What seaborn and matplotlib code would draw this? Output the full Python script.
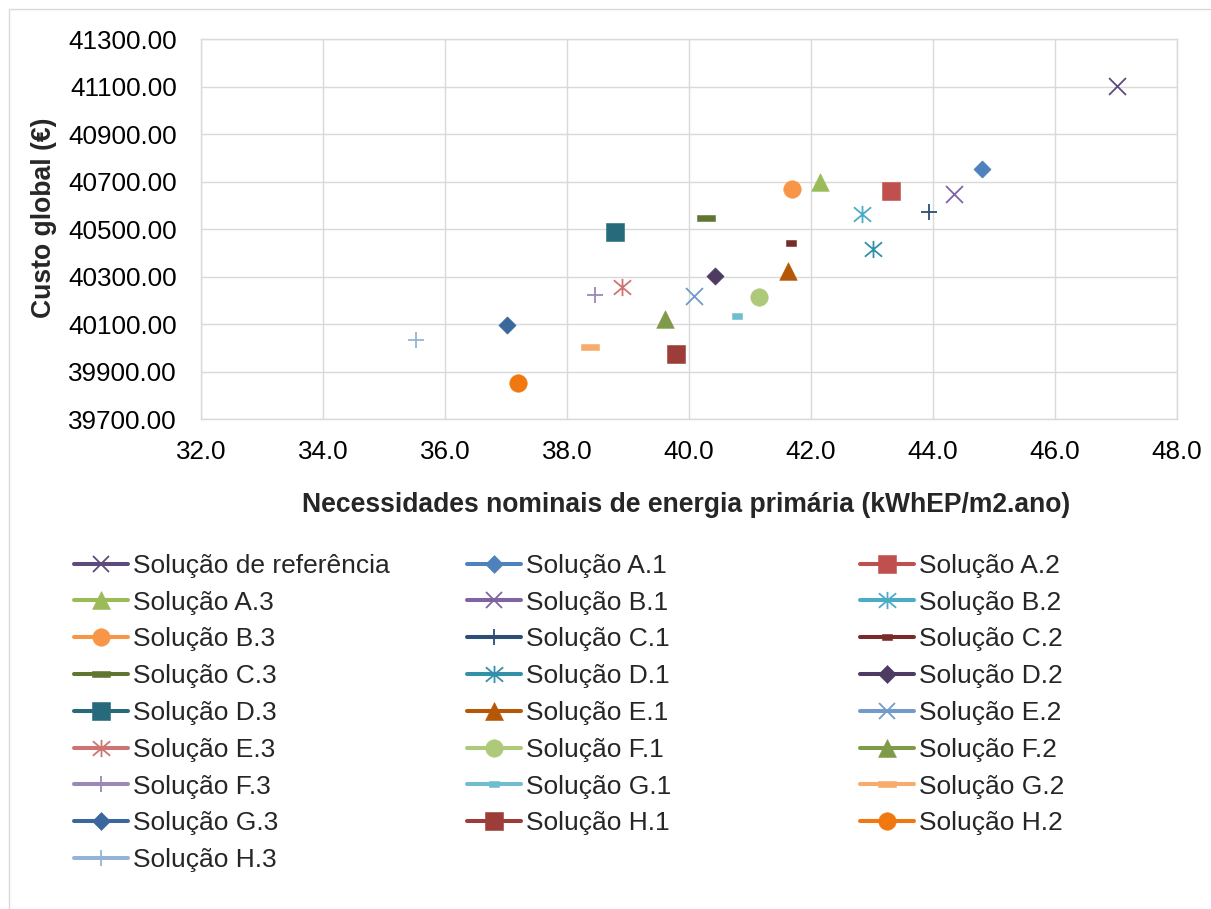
import matplotlib
matplotlib.use("Agg")
import matplotlib.pyplot as plt
from matplotlib.path import Path
from matplotlib.lines import Line2D
from matplotlib.patches import Rectangle
import seaborn as sns

# ---- data -------------------------------------------------------------
solutions = [
    "Solução de referência", "Solução A.1", "Solução A.2",
    "Solução A.3", "Solução B.1", "Solução B.2",
    "Solução B.3", "Solução C.1", "Solução C.2",
    "Solução C.3", "Solução D.1", "Solução D.2",
    "Solução D.3", "Solução E.1", "Solução E.2",
    "Solução E.3", "Solução F.1", "Solução F.2",
    "Solução F.3", "Solução G.1", "Solução G.2",
    "Solução G.3", "Solução H.1", "Solução H.2",
    "Solução H.3",
]
energy = [47.02, 44.81, 43.31, 42.14, 44.35, 42.84, 41.69, 43.94, 41.67,
          40.28, 43.01, 40.43, 38.78, 41.62, 40.09, 38.90, 41.14, 39.61,
          38.46, 40.79, 38.37, 37.02, 39.79, 37.19, 35.52]
cost = [41102, 40753, 40663, 40699, 40649, 40566, 40668, 40572, 40442,
        40546, 40419, 40302, 40487, 40323, 40221, 40256, 40215, 40123,
        40222, 40135, 40006, 40096, 39977, 39853, 40034]

x_ticks = [32, 34, 36, 38, 40, 42, 44, 46, 48]
y_ticks = [39700, 39900, 40100, 40300, 40500, 40700, 40900, 41100, 41300]

# ---- marker shapes ------------------------------------------------------
asterisk = Path([(0, -0.5), (0, 0.5), (-0.5, -0.42), (0.5, 0.42),
                 (-0.5, 0.42), (0.5, -0.42)],
                [Path.MOVETO, Path.LINETO, Path.MOVETO, Path.LINETO,
                 Path.MOVETO, Path.LINETO])
long_dash = Path([(-0.5, -0.14), (0.5, -0.14), (0.5, 0.14), (-0.5, 0.14),
                  (-0.5, -0.14)], closed=True)
short_dash = Path([(-0.5, -0.25), (0.5, -0.25), (0.5, 0.25), (-0.5, 0.25),
                   (-0.5, -0.25)], closed=True)

# (marker, size in pt, filled) per marker kind
kinds = {
    "x": ("x", 12.2, False),
    "+": ("+", 11.5, False),
    "*": (asterisk, 12.4, False),
    "D": ("D", 8.8, True),
    "s": ("s", 13.0, True),
    "^": ("^", 12.7, True),
    "o": ("o", 12.6, True),
    "-": (long_dash, 13.0, True),
    "_": (short_dash, 7.4, True),
}

styles = [
    ("#5F4A7D", "x"), ("#4F81BD", "D"), ("#C0504D", "s"),
    ("#9BBB59", "^"), ("#8064A2", "x"), ("#4BACC6", "*"),
    ("#F79646", "o"), ("#2C4D75", "+"), ("#772C2A", "_"),
    ("#5F7530", "-"), ("#3490A8", "*"), ("#4D3B62", "D"),
    ("#276A7C", "s"), ("#B65708", "^"), ("#729ACA", "x"),
    ("#CD7371", "*"), ("#AFC97A", "o"), ("#7F9A48", "^"),
    ("#9C87B8", "+"), ("#6FBDD1", "_"), ("#F9AB6B", "-"),
    ("#3A679C", "D"), ("#9C3D3A", "s"), ("#F0780F", "o"),
    ("#95B3D7", "+"),
]

# ---- figure -------------------------------------------------------------
sns.set_style("white")
plt.rcParams["font.family"] = ["Liberation Sans", "DejaVu Sans"]

W, H = 1211, 909
fig = plt.figure(figsize=(W / 100, H / 100), dpi=100)
ax = fig.add_axes([201 / W, 1 - 419.3 / H, 976 / W, 380 / H])

grid_c = "#D9D9D9"
for (c, k), name, xv, yv in zip(styles, solutions, energy, cost):
    m, ms, filled = kinds[k]
    sns.scatterplot(x=[xv], y=[yv], ax=ax, marker=m, s=ms ** 2, color=c,
                    edgecolor=c, linewidth=0.4 if filled else 1.3,
                    legend=False, zorder=3, clip_on=False)

ax.set_xlim(32, 48)
ax.set_ylim(39700, 41300)
ax.set_xticks(x_ticks)
ax.set_yticks(y_ticks)
ax.set_xticklabels([f"{v:.1f}" for v in x_ticks])
ax.set_yticklabels([f"{v:.2f}" for v in y_ticks])
ax.tick_params(axis="both", length=0, labelsize=18.7, colors="black")
ax.tick_params(axis="y", pad=17.3)
ax.tick_params(axis="x", pad=15)
ax.grid(True, color=grid_c, linewidth=1.0)
ax.set_axisbelow(True)
for sp in ax.spines.values():
    sp.set_color(grid_c)
    sp.set_linewidth(1.0)
ax.set_xlabel("")
ax.set_ylabel("")

fig.text(50.7 / W, 1 - 218 / H, "Custo global (€)", rotation=90,
         rotation_mode="anchor", ha="center", va="baseline",
         fontsize=19.1, fontweight="bold")
fig.text(686.5 / W, 1 - 511.7 / H,
         "Necessidades nominais de energia primária (kWhEP/m2.ano)",
         ha="center", va="baseline", fontsize=19.1, fontweight="bold")

# chart border
fig.patches.append(Rectangle((9 / W, -0.1), 1.2, 1 - 9 / H + 0.1,
                             transform=fig.transFigure, fill=False,
                             edgecolor=grid_c, linewidth=1.0))

# ---- legend: three columns, filled row by row -----------------------------
handles = []
for (c, k) in styles:
    m, ms, filled = kinds[k]
    handles.append(Line2D([], [], color=c, linewidth=2.9, marker=m,
                          markersize=ms, markerfacecolor=c,
                          markeredgecolor=c,
                          markeredgewidth=0.4 if filled else 1.3,
                          solid_capstyle="round"))

col_x = [74, 467, 860]
for i, cx in enumerate(col_x):
    leg = fig.legend(handles[i::3], solutions[i::3], loc="upper left",
                     bbox_to_anchor=(cx / W, 1 - 553.8 / H),
                     frameon=False, fontsize=19.0, borderpad=0,
                     borderaxespad=0, handlelength=2.05, handletextpad=0.2,
                     labelspacing=0.485)

fig.savefig("out.png", dpi=100, facecolor="white")
